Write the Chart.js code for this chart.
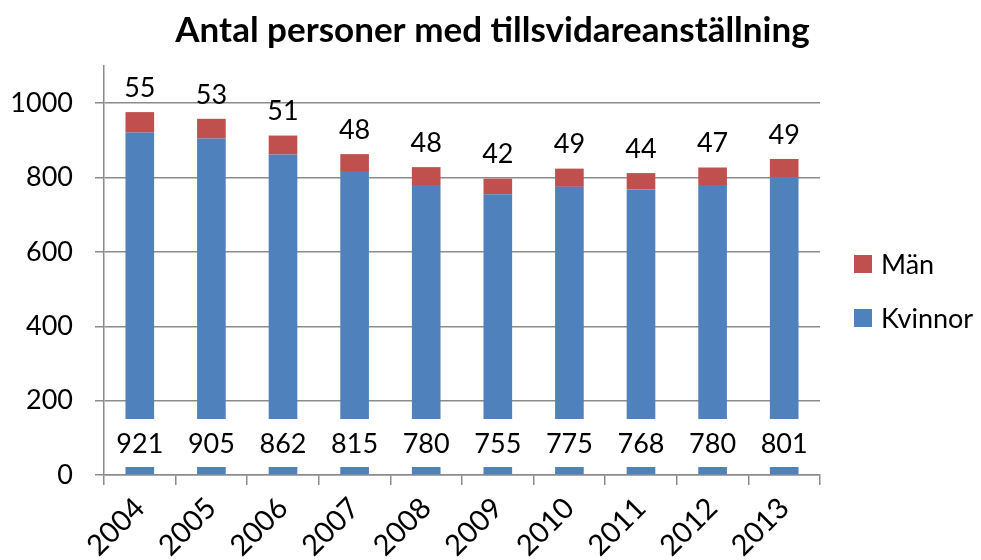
<!DOCTYPE html>
<html>
<head>
<meta charset="utf-8">
<script src="https://cdn.jsdelivr.net/npm/chart.js@4"></script>
<style>
  html, body { margin: 0; padding: 0; background: #fff; }
  #wrap { width: 981px; height: 560px; }
</style>
</head>
<body>
<div id="wrap"><canvas id="chart" width="981" height="560"></canvas></div>
<script>
const years = ['2004', '2005', '2006', '2007', '2008', '2009', '2010', '2011', '2012', '2013'];
const kvinnor = [921, 905, 862, 815, 780, 755, 775, 768, 780, 801];
const man = [55, 53, 51, 48, 48, 42, 49, 44, 47, 49];
const titleText = 'Antal personer med tillsvidareanställning';

const FONT = 'Lato, "Open Sans", sans-serif';
const gridColor = '#8c8c8c';

// title centred on the whole canvas, not only the plot
const topTitle = {
  id: 'topTitle',
  afterDraw(chart) {
    const ctx = chart.ctx;
    ctx.save();
    ctx.font = 'bold 35px ' + FONT;
    ctx.textAlign = 'center';
    ctx.textBaseline = 'middle';
    ctx.fillStyle = '#000';
    ctx.fillText(titleText, chart.width / 2 + 2, 31);
    ctx.restore();
  }
};

// draws the value labels on the bars
const barLabels = {
  id: 'barLabels',
  afterDatasetsDraw(chart) {
    const ctx = chart.ctx;
    const base = chart.scales.y.getPixelForValue(0);
    ctx.save();
    ctx.font = '27px ' + FONT;
    ctx.textAlign = 'center';
    ctx.textBaseline = 'middle';
    chart.getDatasetMeta(0).data.forEach((bar, i) => {
      const txt = String(kvinnor[i]);
      const w = Math.max(ctx.measureText(txt).width + 8, bar.width + 2);
      const cy = base - 32;
      ctx.fillStyle = '#fff';
      ctx.fillRect(bar.x - w / 2, cy - 24, w, 48);
      ctx.fillStyle = '#000';
      ctx.fillText(txt, bar.x, cy + 1);
    });
    chart.getDatasetMeta(1).data.forEach((bar, i) => {
      ctx.fillStyle = '#000';
      ctx.fillText(String(man[i]), bar.x, bar.y - 24);
    });
    ctx.restore();
  }
};

// legend on the right, Män first
const sideLegend = {
  id: 'sideLegend',
  afterDraw(chart) {
    const ctx = chart.ctx;
    const x = chart.chartArea.right + 34;
    const order = [1, 0];
    ctx.save();
    ctx.font = '27px ' + FONT;
    ctx.textBaseline = 'middle';
    order.forEach((di, k) => {
      const ds = chart.data.datasets[di];
      const cy = 264 + k * 54;
      ctx.fillStyle = ds.backgroundColor;
      ctx.fillRect(x, cy - 9, 18, 18);
      ctx.fillStyle = '#000';
      ctx.fillText(ds.label, x + 27, cy + 1);
    });
    ctx.restore();
  }
};

new Chart(document.getElementById('chart'), {
  type: 'bar',
  data: {
    labels: years,
    datasets: [
      { label: 'Kvinnor', data: kvinnor, backgroundColor: '#4F81BD' },
      { label: 'Män', data: man, backgroundColor: '#C0504D' }
    ]
  },
  options: {
    responsive: false,
    animation: false,
    barPercentage: 0.4,
    categoryPercentage: 1,
    layout: { padding: { left: 0, right: 161, top: 66, bottom: 0 } },
    plugins: {
      legend: { display: false },
      tooltip: { enabled: false },
      title: { display: false }
    },
    scales: {
      x: {
        stacked: true,
        grid: { offset: true, drawOnChartArea: false, color: gridColor, lineWidth: 1.5, tickLength: 10 },
        border: { color: gridColor, width: 1.5 },
        ticks: {
          color: '#000',
          font: { family: FONT, size: 29 },
          minRotation: 45,
          maxRotation: 45,
          padding: 6
        },
        afterFit(scale) { scale.height = 85; }
      },
      y: {
        stacked: true,
        min: 0,
        max: 1100,
        grid: { color: gridColor, lineWidth: 1.5, tickLength: 9 },
        border: { color: gridColor, width: 1.5 },
        ticks: {
          stepSize: 200,
          color: '#000',
          font: { family: FONT, size: 27 },
          padding: 22,
          callback: v => String(v)
        },
        afterBuildTicks(scale) {
          scale.ticks = scale.ticks.filter(t => t.value <= 1000);
        },
        afterFit(scale) { scale.width = 104; }
      }
    }
  },
  plugins: [barLabels, sideLegend, topTitle]
});
</script>
</body>
</html>
